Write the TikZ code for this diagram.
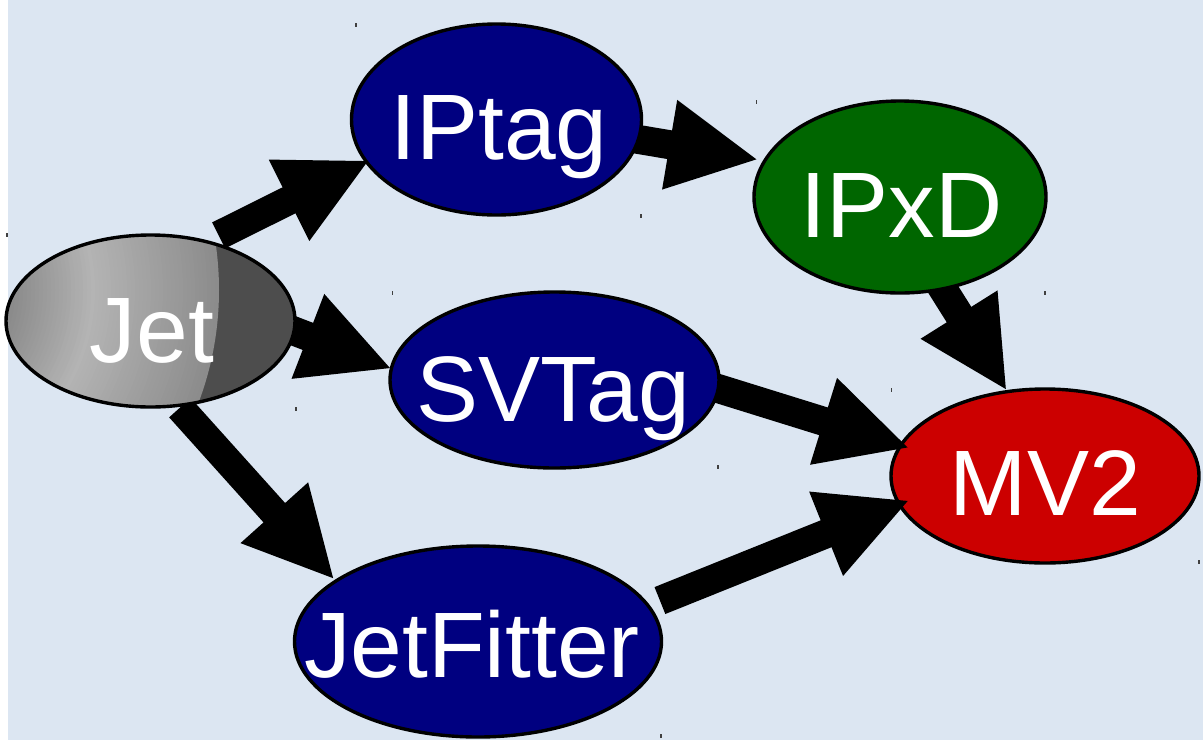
\documentclass[tikz,border=0pt]{standalone}
\usepackage{fontspec}
\setmainfont{Liberation Sans}
\usetikzlibrary{shapes.geometric,calc}
\pgfdeclarelayer{back}
\pgfdeclarelayer{bg}
\pgfsetlayers{back,bg,main}
\definecolor{bgblue}{HTML}{DCE6F2}
\definecolor{navy}{HTML}{000080}
\definecolor{ipgreen}{HTML}{006600}
\definecolor{mvred}{HTML}{CC0000}
\definecolor{jetdark}{HTML}{4D4D4D}
\definecolor{jetlight}{HTML}{B4B4B4}
\definecolor{jetmid}{HTML}{8C8C8C}
\definecolor{jetinner}{HTML}{858585}
\definecolor{tickc}{HTML}{404040}
\newcommand\lbfont{\fontsize{93}{100}\selectfont}
\tikzset{
  ell/.style={ellipse, draw=black, line width=3.4pt, inner sep=0pt, outer sep=0pt},
  lbl/.style={text=white, font=\lbfont, anchor=base, inner sep=0pt},
  arrowc/.style={fill=black},
  tickmark/.style={fill=tickc}
}
% #1 start anchor, #2 tip anchor, #3 pull-back of tip (pt, negative = deeper into target),
% #4 shift of shaft start toward the target (negative = hidden inside the source)
\newcommand\blockarrow[4]{%
  \coordinate (ba-t) at ($(#2)!#3pt!(#1)$);
  \coordinate (ba-s) at ($(#1)!#4pt!(#2)$);
  \coordinate (ba-h) at ($(ba-t)!88pt!(ba-s)$);
  \coordinate (ba-e) at ($(ba-t)!85pt!(ba-s)$);
  \begin{pgfonlayer}{bg}
    \fill[arrowc] ($(ba-s)!14.5pt!90:(ba-t)$) -- ($(ba-e)!14.5pt!90:(ba-t)$)
      -- ($(ba-e)!14.5pt!-90:(ba-t)$) -- ($(ba-s)!14.5pt!-90:(ba-t)$) -- cycle;
  \end{pgfonlayer}
  \fill[arrowc] ($(ba-h)!45.5pt!90:(ba-t)$) -- (ba-t) -- ($(ba-h)!45.5pt!-90:(ba-t)$) -- cycle;
}
\begin{document}
\begin{tikzpicture}[x=1pt,y=-1pt]
\useasboundingbox (0,0) rectangle (1203,740);
\begin{pgfonlayer}{back}
  \fill[white] (0,0) rectangle (1203,740);
  \fill[bgblue] (8,0) rectangle (1203,740);
\end{pgfonlayer}

% nodes
\node[ell, draw=none, minimum width=289pt, minimum height=172pt] (jet) at (150.5,321) {};
\node[ell, fill=navy, minimum width=290pt, minimum height=191pt] (iptag) at (496.5,119.5) {};
\node[ell, fill=ipgreen, minimum width=292pt, minimum height=192pt] (ipxd) at (900,197) {};
\node[ell, fill=navy, minimum width=329pt, minimum height=176pt] (svtag) at (554.5,380) {};
\node[ell, fill=mvred, minimum width=308pt, minimum height=174pt] (mv2) at (1045,476) {};
\node[ell, fill=navy, minimum width=367pt, minimum height=191pt] (jetfitter) at (478,641.5) {};

% Jet shading
\begin{scope}
  \clip (jet.center) ellipse [x radius=144.5pt, y radius=86pt];
  \fill[jetdark] (jet.center) ellipse [x radius=145pt, y radius=87pt];
  \foreach \r in {319,315,...,103} {
    \ifnum\r>195
      \pgfmathtruncatemacro\pp{(319-\r)*100/124}
      \colorlet{jc}{jetlight!\pp!jetmid}
    \else
      \pgfmathtruncatemacro\pp{(\r-103)*100/92}
      \colorlet{jc}{jetlight!\pp!jetinner}
    \fi
    \fill[jc] (-100,290) circle [radius=\r pt];
  }
\end{scope}
\draw[line width=3.4pt] (jet.center) ellipse [x radius=144.5pt, y radius=86pt];

% labels
\node[lbl] (jett) at (152,362) {Jet};
\node[lbl] (iptagt) at (499,159) {IPtag};
\node[lbl] (ipxdt) at (901.5,237) {IPxD};
\node[lbl] (svtagt) at (553,421) {SVTag};
\node[lbl] (mv2t) at (1045.5,515) {MV2};
\node[lbl] (jetfittert) at (472,677) {JetFitter};

% arrows
\blockarrow{jet.55}{iptag.198}{-1.5}{14}
\blockarrow{jet.356}{svtag.176}{1.5}{-20}
\blockarrow{jet.288}{jetfitter.157}{4}{3}
\blockarrow{iptag.352}{ipxd.165}{8.5}{-20}
\blockarrow{ipxd.295}{mv2.114}{3}{-20}
\blockarrow{svtag.357}{mv2.168}{-7}{-20}
\blockarrow{jetfitter.12}{mv2.191}{-9}{13}

% small stray marks
\foreach \mx/\my in {356/25, 756.7/101.7, 641/216, 7/235, 392.3/293.3, 1045/293.3, 891.7/389.5, 296/408.5, 718/466.7, 1199/562, 661/735.7} {
  \fill[tickmark] (\mx-0.7,\my-2) rectangle (\mx+0.7,\my+2);
}
\end{tikzpicture}
\end{document}
